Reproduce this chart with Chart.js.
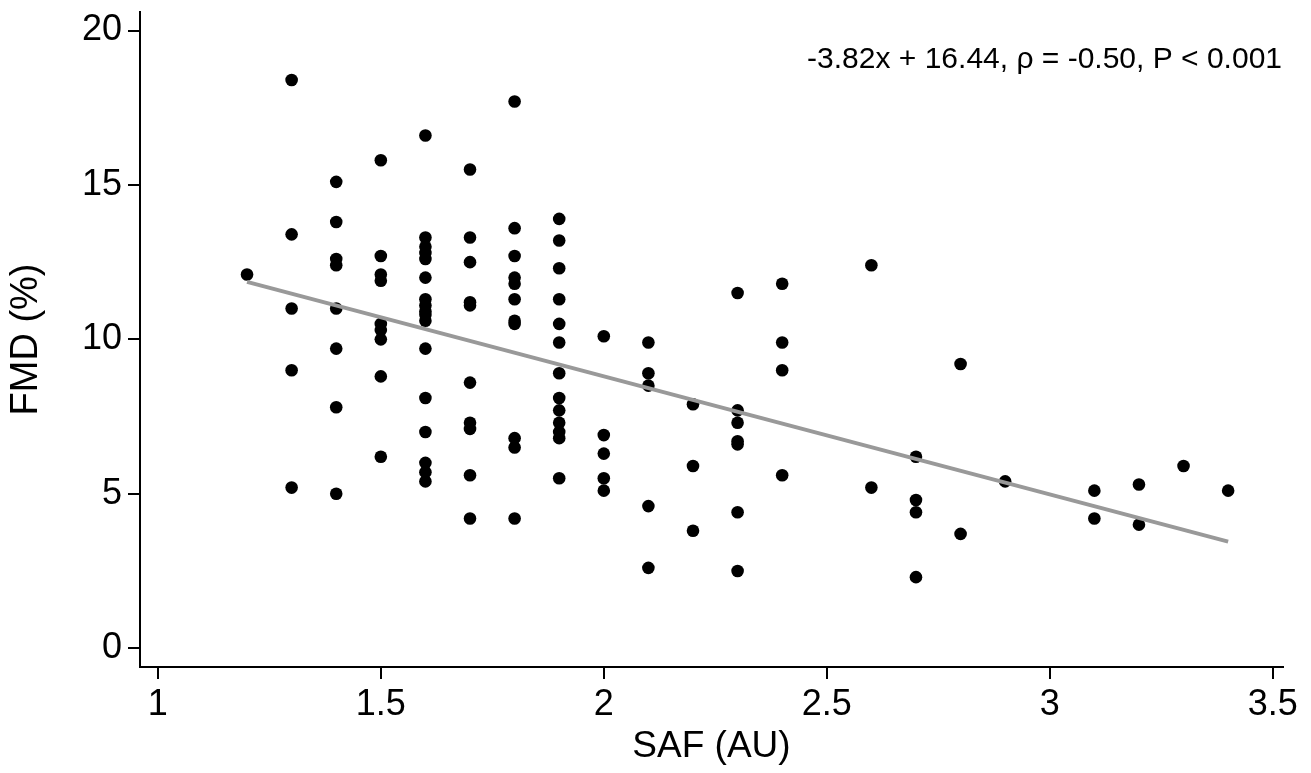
<!DOCTYPE html>
<html>
<head>
<meta charset="utf-8">
<script src="https://cdn.jsdelivr.net/npm/chart.js@4.4.0/dist/chart.umd.min.js"></script>
<style>
  html, body { margin: 0; padding: 0; background: #ffffff; }
  canvas { display: block; }
</style>
</head>
<body>
<canvas id="c" width="1311" height="773"></canvas>
<script>
// ---- data ----
const safX = [
  1.2,
  1.3, 1.3, 1.3, 1.3, 1.3,
  1.4, 1.4, 1.4, 1.4, 1.4, 1.4, 1.4, 1.4,
  1.5, 1.5, 1.5, 1.5, 1.5, 1.5, 1.5, 1.5, 1.5,
  1.6, 1.6, 1.6, 1.6, 1.6, 1.6, 1.6, 1.6, 1.6, 1.6, 1.6, 1.6, 1.6, 1.6, 1.6, 1.6, 1.6,
  1.7, 1.7, 1.7, 1.7, 1.7, 1.7, 1.7, 1.7, 1.7, 1.7,
  1.8, 1.8, 1.8, 1.8, 1.8, 1.8, 1.8, 1.8, 1.8, 1.8, 1.8,
  1.9, 1.9, 1.9, 1.9, 1.9, 1.9, 1.9, 1.9, 1.9, 1.9, 1.9, 1.9, 1.9,
  2.0, 2.0, 2.0, 2.0, 2.0,
  2.1, 2.1, 2.1, 2.1, 2.1,
  2.2, 2.2, 2.2,
  2.3, 2.3, 2.3, 2.3, 2.3, 2.3, 2.3,
  2.4, 2.4, 2.4, 2.4,
  2.6, 2.6,
  2.7, 2.7, 2.7, 2.7,
  2.8, 2.8,
  2.9,
  3.1, 3.1,
  3.2, 3.2,
  3.3,
  3.4
];
const fmdY = [
  12.1,
  18.4, 13.4, 11.0, 9.0, 5.2,
  15.1, 13.8, 12.6, 12.4, 11.0, 9.7, 7.8, 5.0,
  15.8, 12.7, 12.1, 11.9, 10.5, 10.3, 10.0, 8.8, 6.2,
  16.6, 13.3, 13.0, 12.8, 12.6, 12.0, 11.3, 11.1, 10.9, 10.8, 10.6, 9.7, 8.1, 7.0, 6.0, 5.7, 5.4,
  15.5, 13.3, 12.5, 11.2, 11.1, 8.6, 7.3, 7.1, 5.6, 4.2,
  17.7, 13.6, 12.7, 12.0, 11.8, 11.3, 10.6, 10.5, 6.8, 6.5, 4.2,
  13.9, 13.2, 12.3, 11.3, 10.5, 9.9, 8.9, 8.1, 7.7, 7.3, 7.0, 6.8, 5.5,
  10.1, 6.9, 6.3, 5.5, 5.1,
  9.9, 8.9, 8.5, 4.6, 2.6,
  7.9, 5.9, 3.8,
  11.5, 7.7, 7.3, 6.7, 6.6, 4.4, 2.5,
  11.8, 9.9, 9.0, 5.6,
  12.4, 5.2,
  6.2, 4.8, 4.4, 2.3,
  9.2, 3.7,
  5.4,
  5.1, 4.2,
  5.3, 4.0,
  5.9,
  5.1
];
// fitted line end points
const fitX = [1.2, 3.4];
const fitY = [11.86, 3.45];

const xTickValues = [1, 1.5, 2, 2.5, 3, 3.5];
const xTickLabels = ['1', '1.5', '2', '2.5', '3', '3.5'];
const yTickValues = [0, 5, 10, 15, 20];
const yTickLabels = ['0', '5', '10', '15', '20'];

const annotationText = '-3.82x + 16.44, \u03C1 = -0.50, P < 0.001';
const xTitle = 'SAF (AU)';
const yTitle = 'FMD (%)';

// ---- chart ----
const FONT = '"Liberation Sans", Arial, Helvetica, sans-serif';

const scatterPoints = safX.map((x, i) => ({ x: x, y: fmdY[i] }));
const fitPoints = fitX.map((x, i) => ({ x: x, y: fitY[i] }));

const annotationPlugin = {
  id: 'annotationText',
  afterDraw(chart) {
    const ctx = chart.ctx;
    const area = chart.chartArea;
    ctx.save();
    ctx.font = '30px ' + FONT;
    ctx.fillStyle = '#000';
    ctx.textAlign = 'right';
    ctx.textBaseline = 'alphabetic';
    ctx.fillText(annotationText, area.right - 1, 68);
    ctx.restore();
  }
};

new Chart(document.getElementById('c'), {
  type: 'scatter',
  data: {
    datasets: [
      {
        type: 'line',
        data: fitPoints,
        borderColor: '#999999',
        borderWidth: 4,
        pointRadius: 0,
        fill: false,
        tension: 0
      },
      {
        type: 'scatter',
        data: scatterPoints,
        pointRadius: 6.3,
        pointBackgroundColor: '#000000',
        pointBorderWidth: 0,
        borderColor: '#000000'
      }
    ]
  },
  options: {
    responsive: false,
    animation: false,
    devicePixelRatio: 1,
    layout: { padding: { top: 12, right: 28, left: 0, bottom: 0 } },
    plugins: {
      legend: { display: false },
      tooltip: { enabled: false }
    },
    scales: {
      x: {
        type: 'linear',
        min: 0.96,
        max: 3.523,
        afterBuildTicks(axis) { axis.ticks = xTickValues.map(v => ({ value: v })); },
        afterFit(axis) { axis.height = 106; axis.paddingLeft = 0; axis.paddingRight = 0; },
        ticks: {
          autoSkip: false,
          maxRotation: 0,
          color: '#000',
          padding: 4,
          font: { family: FONT, size: 36 },
          callback(v) { const i = xTickValues.indexOf(v); return i >= 0 ? xTickLabels[i] : ''; }
        },
        grid: { display: true, drawOnChartArea: false, drawTicks: true, tickLength: 12, color: '#000', lineWidth: 2 },
        border: { display: true, color: '#000', width: 2 },
        title: { display: true, text: xTitle, color: '#000', font: { family: FONT, size: 37 }, padding: { top: 0, bottom: 4 } }
      },
      y: {
        type: 'linear',
        min: -0.61,
        max: 20.6,
        afterBuildTicks(axis) { axis.ticks = yTickValues.map(v => ({ value: v })); },
        afterFit(axis) { axis.width = 140; axis.paddingTop = 0; axis.paddingBottom = 0; },
        ticks: {
          autoSkip: false,
          color: '#000',
          padding: 6,
          font: { family: FONT, size: 36 },
          callback(v) { const i = yTickValues.indexOf(v); return i >= 0 ? yTickLabels[i] : ''; }
        },
        grid: { display: true, drawOnChartArea: false, drawTicks: true, tickLength: 12, color: '#000', lineWidth: 2 },
        border: { display: true, color: '#000', width: 2 },
        title: { display: true, text: yTitle, color: '#000', font: { family: FONT, size: 38 }, padding: { top: 4, bottom: 0 } }
      }
    }
  },
  plugins: [annotationPlugin]
});
</script>
</body>
</html>
